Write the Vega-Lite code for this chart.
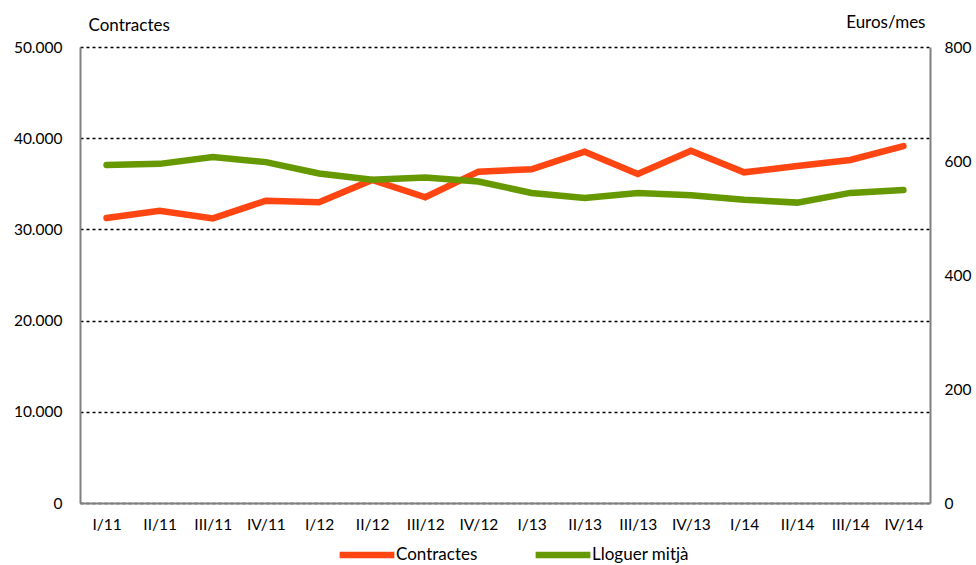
{
  "$schema": "https://vega.github.io/schema/vega-lite/v6.json",
  "width": 850,
  "height": 456,
  "autosize": "none",
  "padding": {"left": 80, "top": 47, "right": 46, "bottom": 62},
  "background": "white",
  "config": {
    "font": "Lato",
    "view": {"stroke": null},
    "axis": {"labelFont": "Lato", "titleFont": "Lato", "labelFontSize": 15.5, "titleFontSize": 17, "labelColor": "#000", "titleColor": "#000", "titleFontWeight": "normal"}
  },
  "data": {
    "values": [
      {"period": "I/11", "contractes": 31250, "lloguer": 593},
      {"period": "II/11", "contractes": 32050, "lloguer": 595},
      {"period": "III/11", "contractes": 31200, "lloguer": 607},
      {"period": "IV/11", "contractes": 33150, "lloguer": 598},
      {"period": "I/12", "contractes": 32970, "lloguer": 578},
      {"period": "II/12", "contractes": 35420, "lloguer": 567},
      {"period": "III/12", "contractes": 33520, "lloguer": 571},
      {"period": "IV/12", "contractes": 36330, "lloguer": 564},
      {"period": "I/13", "contractes": 36590, "lloguer": 544},
      {"period": "II/13", "contractes": 38520, "lloguer": 535},
      {"period": "III/13", "contractes": 36070, "lloguer": 544},
      {"period": "IV/13", "contractes": 38630, "lloguer": 540},
      {"period": "I/14", "contractes": 36260, "lloguer": 532},
      {"period": "II/14", "contractes": 36950, "lloguer": 527},
      {"period": "III/14", "contractes": 37610, "lloguer": 544},
      {"period": "IV/14", "contractes": 39140, "lloguer": 549}
    ]
  },
  "encoding": {
    "x": {
      "field": "period", "type": "nominal", "sort": null,
      "scale": {"type": "point", "padding": 0.5},
      "axis": {"title": null, "labelAngle": 0, "ticks": false, "domainColor": "#808080", "domainWidth": 2, "labelPadding": 14, "grid": false}
    }
  },
  "layer": [
    {
      "mark": {"type": "line", "strokeWidth": 6.5, "strokeCap": "round", "strokeJoin": "miter"},
      "encoding": {
        "y": {
          "field": "contractes", "type": "quantitative",
          "scale": {"domain": [0, 50000], "nice": false},
          "axis": {
            "title": "Contractes", "titleAngle": 0, "titleAlign": "left", "titleBaseline": "middle", "titleX": 8, "titleY": -22,
            "values": [0, 10000, 20000, 30000, 40000, 50000],
            "labelExpr": "replace(format(datum.value, ','), ',', '.')",
            "ticks": false, "labelPadding": 18,
            "domainColor": "#808080", "domainWidth": 2,
            "grid": true, "gridColor": "#000", "gridDash": [3, 3], "gridWidth": 1.5
          }
        },
        "color": {
          "datum": "Contractes", "type": "nominal",
          "scale": {"domain": ["Contractes", "Lloguer mitjà"], "range": ["#FF4511", "#669900"]},
          "legend": {
            "title": null, "orient": "none", "direction": "horizontal", "legendX": 256, "legendY": 477,
            "symbolType": "stroke", "symbolSize": 3000, "symbolStrokeWidth": 6.5,
            "labelFont": "Lato", "labelFontSize": 17, "labelColor": "#000", "labelOffset": -2, "columnPadding": 44
          }
        }
      }
    },
    {
      "mark": {"type": "line", "strokeWidth": 6.5, "strokeCap": "round", "strokeJoin": "miter"},
      "encoding": {
        "y": {
          "field": "lloguer", "type": "quantitative",
          "scale": {"domain": [0, 800], "nice": false},
          "axis": {
            "orient": "right", "title": "Euros/mes", "titleAngle": 0, "titleAlign": "right", "titleBaseline": "middle", "titleX": -5, "titleY": -25,
            "values": [0, 200, 400, 600, 800],
            "ticks": false, "labelPadding": 14,
            "domainColor": "#808080", "domainWidth": 2, "grid": false
          }
        },
        "color": {"datum": "Lloguer mitjà", "type": "nominal"}
      }
    }
  ],
  "resolve": {"scale": {"y": "independent"}}
}
